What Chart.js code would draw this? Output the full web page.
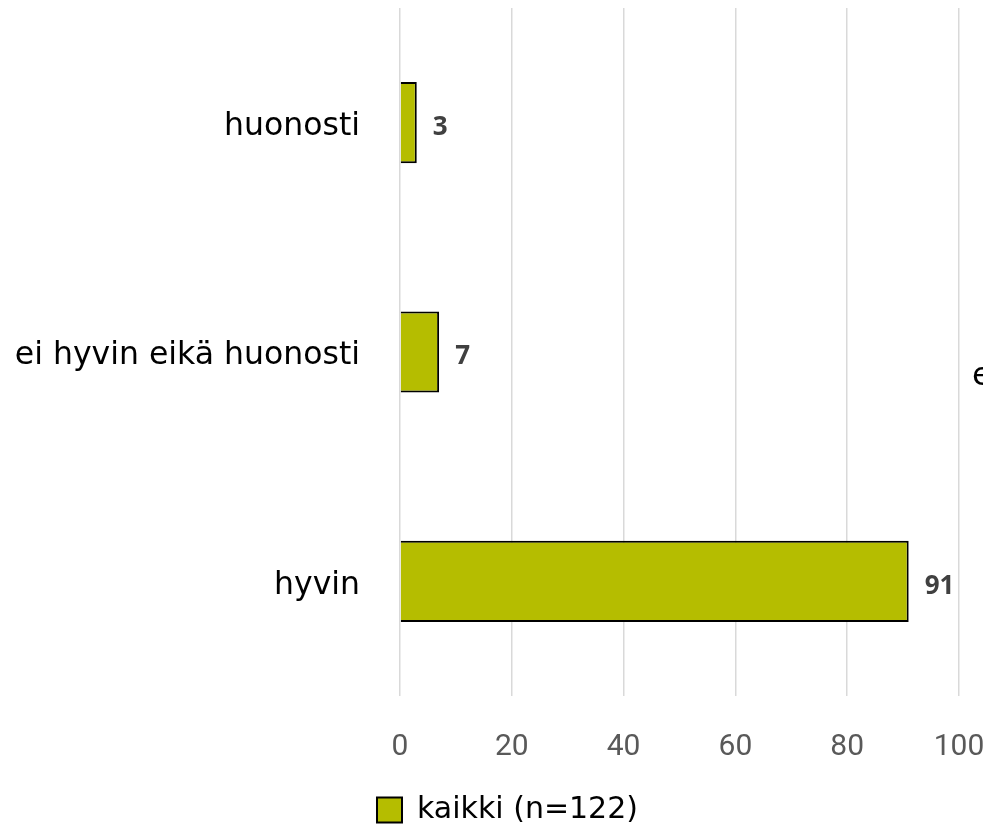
<!DOCTYPE html>
<html>
<head>
<meta charset="utf-8">
<script src="https://cdn.jsdelivr.net/npm/chart.js@4"></script>
<style>
  html, body { margin: 0; padding: 0; background: #fff; }
  #wrap { width: 983px; height: 829px; }
</style>
</head>
<body>
<div id="wrap"><canvas id="chart"></canvas></div>
<script>
const categories = ["huonosti", "ei hyvin eikä huonosti", "hyvin"];
const values = [3, 7, 91];
const seriesName = "kaikki (n=122)";
const barColour = "#b5bd00";

// value labels at the end of each bar
const valueLabels = {
  id: "valueLabels",
  afterDatasetsDraw(chart) {
    const ctx = chart.ctx;
    const meta = chart.getDatasetMeta(0);
    ctx.save();
    ctx.font = "bold 26px 'Open Sans'";
    ctx.fillStyle = "#404040";
    ctx.textAlign = "left";
    ctx.textBaseline = "middle";
    meta.data.forEach((bar, i) => {
      ctx.fillText(values[i], bar.x + 16, bar.y + 5);
    });
    ctx.restore();
  }
};

// legend sits a bit right of centre and lower in the original
const legendShift = {
  id: "legendShift",
  afterUpdate(chart) {
    const legend = chart.legend;
    legend.left += 28;
    legend.right += 28;
    legend.top += 6;
    legend.bottom += 6;
    legend.adjustHitBoxes();
  }
};

// clipped text at the right edge of the original
const edgeText = {
  id: "edgeText",
  afterDraw(chart) {
    const ctx = chart.ctx;
    ctx.save();
    ctx.font = "32px 'DejaVu Sans'";
    ctx.fillStyle = "#000";
    ctx.textBaseline = "middle";
    ctx.fillText("e", 972, 377);
    ctx.restore();
  }
};

new Chart(document.getElementById("chart"), {
  type: "bar",
  data: {
    labels: categories,
    datasets: [{
      label: seriesName,
      data: values,
      backgroundColor: barColour,
      borderColor: "#000",
      borderWidth: 2,
      categoryPercentage: 1,
      barPercentage: 0.354
    }]
  },
  options: {
    indexAxis: "y",
    responsive: true,
    maintainAspectRatio: false,
    animation: false,
    layout: { padding: { top: 8, right: 24, left: 0, bottom: 0 } },
    scales: {
      x: {
        min: 0,
        max: 100,
        ticks: {
          stepSize: 20,
          padding: 33,
          color: "#595959",
          font: { family: "Roboto", size: 30 }
        },
        grid: { color: "#d9d9d9", lineWidth: 1.5, drawTicks: false },
        border: { display: false },
        afterFit(scale) {
          scale.height = 93;
          scale.paddingLeft = 0;
          scale.paddingRight = 0;
        }
      },
      y: {
        ticks: {
          padding: 40,
          labelOffset: 4,
          color: "#000",
          font: { family: "'DejaVu Sans'", size: 31.5 }
        },
        grid: { display: false, drawTicks: false },
        border: { display: false },
        afterFit(scale) {
          scale.width = 400;
          scale.paddingTop = 0;
          scale.paddingBottom = 0;
        }
      }
    },
    plugins: {
      legend: {
        position: "bottom",
        labels: {
          boxWidth: 25,
          boxHeight: 25,
          color: "#000",
          padding: 0,
          font: { family: "'DejaVu Sans'", size: 30 }
        }
      },
      tooltip: { enabled: false }
    }
  },
  plugins: [valueLabels, legendShift, edgeText]
});
</script>
</body>
</html>
